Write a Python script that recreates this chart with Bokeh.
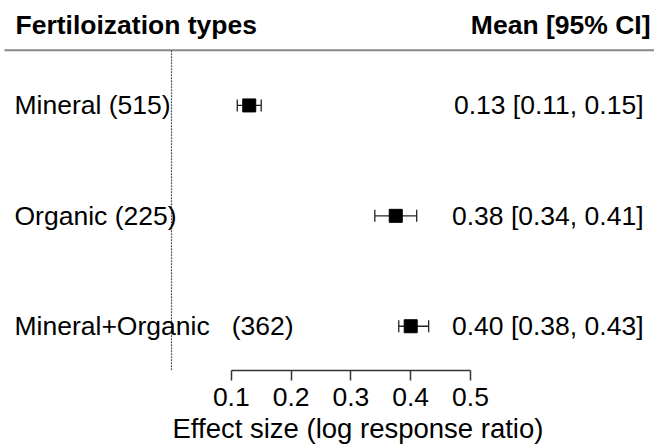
from bokeh.plotting import figure
from bokeh.models import ColumnDataSource, Range1d, FixedTicker, Whisker, TeeHead, Label, Title
from bokeh.core.properties import value
from bokeh.embed import file_html
from bokeh.resources import INLINE

# ---- data ----
types = ["Mineral", "Organic", "Mineral+Organic"]
counts = [515, 225, 362]
means = [0.13, 0.375, 0.40]
lowers = [0.11, 0.34, 0.38]
uppers = [0.15, 0.41, 0.43]
ci_text = ["0.13 [0.11, 0.15]", "0.38 [0.34, 0.41]", "0.40 [0.38, 0.43]"]
ticks = [0.1, 0.2, 0.3, 0.4, 0.5]
header_left = "Fertiloization types"
header_right = "Mean [95% CI]"
x_title = "Effect size (log response ratio)"

# ---- layout helpers (pixel -> data) ----
W, H = 654, 446
FRAME_H = 372
XSCALE = 598.0          # px per unit on x
X0_PX = 171.0           # px where x = 0
ROW_PX = 111.0          # px per row
FIRST_ROW_PX = 105.5
FONT = "Liberation Sans"
FS = "26.5px"

x_start = -X0_PX / XSCALE
x_end = (W - X0_PX) / XSCALE
n = len(types)
ys = [n - i for i in range(n)]               # 3, 2, 1
y_end = n + FIRST_ROW_PX / ROW_PX
y_start = y_end - FRAME_H / ROW_PX

def dx(px):
    return x_start + px / XSCALE

def dy(px):
    return y_end - px / ROW_PX

labels = []
for t, c in zip(types, counts):
    if "+" in t:
        labels.append(t + "\u00a0\u00a0\u00a0(" + str(c) + ")")
    else:
        labels.append(t + " (" + str(c) + ")")

src = ColumnDataSource(dict(y=ys, mean=means, lower=lowers, upper=uppers,
                            label=labels, ci=ci_text))

p = figure(width=W, height=H, output_backend="svg", toolbar_location=None,
           x_range=Range1d(x_start, x_end), y_range=Range1d(y_start, y_end),
           y_axis_location=None, min_border_left=0, min_border_right=0,
           min_border_top=0, min_border_bottom=H - FRAME_H)
p.outline_line_color = None
p.grid.visible = False
p.background_fill_color = "white"
p.border_fill_color = "white"

# headers
p.add_layout(Label(x=dx(15), y=dy(25), text=header_left, text_font=FONT,
                   text_font_size=FS, text_font_style="bold", text_align="left",
                   text_baseline="middle", text_color="black"))
p.add_layout(Label(x=dx(650), y=dy(25), text=header_right, text_font=FONT,
                   text_font_size=FS, text_font_style="bold", text_align="right",
                   text_baseline="middle", text_color="black"))
p.segment(x0=[dx(4)], y0=[dy(50)], x1=[x_end], y1=[dy(50)],
          line_color="#888888", line_width=1.8)

# zero reference line
p.segment(x0=[0], y0=[dy(50)], x1=[0], y1=[y_start],
          line_color="#555555", line_width=1.2, line_dash="2 1")

# CI whiskers
w = Whisker(source=src, base="y", lower="lower", upper="upper", dimension="width",
            line_color="#222222", line_width=1.3,
            upper_head=TeeHead(size=12, line_color="#222222", line_width=1.3),
            lower_head=TeeHead(size=12, line_color="#222222", line_width=1.3))
p.add_layout(w)

# means
p.scatter(x="mean", y="y", source=src, marker="square", size=13,
          fill_color="black", line_color="black")

# row labels
p.text(x=dx(14), y="y", text="label", source=src, text_font=value(FONT),
       text_font_size=value(FS), text_align="left", text_baseline="middle",
       text_color="black")
p.text(x=dx(643), y="y", text="ci", source=src, text_font=value(FONT),
       text_font_size=value(FS), text_align="right", text_baseline="middle",
       text_color="black")

# axis
ax = p.xaxis[0]
ax.bounds = (ticks[0], ticks[-1])
ax.ticker = FixedTicker(ticks=ticks)
ax.minor_tick_line_color = None
ax.major_tick_out = 10
ax.major_tick_in = 0
ax.axis_line_color = "#333333"
ax.axis_line_width = 1.5
ax.major_tick_line_color = "#333333"
ax.major_tick_line_width = 1.5
ax.major_label_text_font = FONT
ax.major_label_text_font_size = FS
ax.major_label_text_color = "black"
ax.major_label_standoff = 7

# axis title, placed under the axis and started near x = 0
p.add_layout(Title(text=x_title, align="left", offset=172, standoff=5,
                   text_font=FONT, text_font_size="27.5px", text_font_style="normal",
                   text_color="black"), "below")

open("out.html", "w").write(file_html(p, INLINE))
